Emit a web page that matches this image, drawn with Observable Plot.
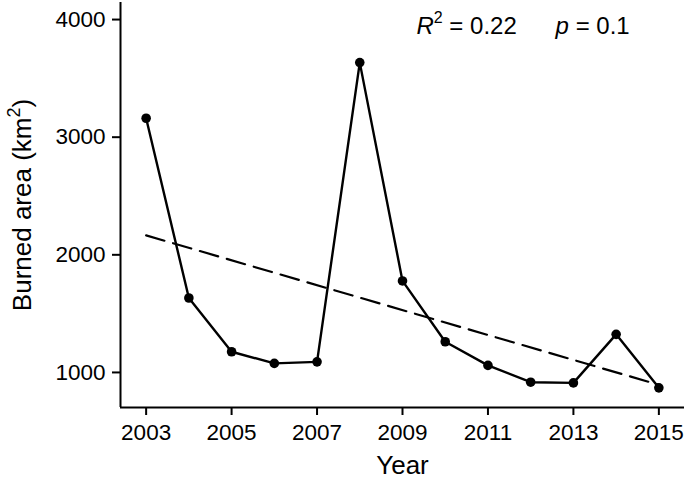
<!DOCTYPE html>
<html><head><meta charset="utf-8">
<script src="https://cdn.jsdelivr.net/npm/d3@7"></script>
<script src="https://cdn.jsdelivr.net/npm/@observablehq/plot@0.6"></script>
<style>body{margin:0;background:#fff}</style>
</head><body><div id="chart"></div>
<script>
const years = [2003,2004,2005,2006,2007,2008,2009,2010,2011,2012,2013,2014,2015];
const burnedArea = [3161,1633,1176,1077,1090,3634,1778,1261,1060,917,911,1324,869];
const xTicks = [2003,2005,2007,2009,2011,2013,2015];
const yTicks = [1000,2000,3000,4000];
const statNames = ["R", "p"];
const statValues = ["0.22", "0.1"];
const statX = [2010.5, 2013.45];
const statY = [3945, 3945];
const yTitle = "Burned area (km²)";
const xTitle = "Year";

const data = years.map((year, i) => ({year, area: burnedArea[i]}));
const stats = statNames.map((name, i) => ({name, value: statValues[i], x: statX[i], y: statY[i]}));
const FONT = "'Liberation Sans', Arial, sans-serif";

const chart = Plot.plot({
  width: 685, height: 479,
  marginLeft: 120, marginRight: 1, marginTop: 2, marginBottom: 72,
  style: {fontFamily: FONT, fontSize: "22.5px", color: "#000", background: "#fff", overflow: "visible"},
  x: {domain: [2002.4, 2015.6]},
  y: {domain: [702, 4145]},
  marks: [
    Plot.axisY({ticks: yTicks, tickFormat: d => String(d), tickSize: 8, tickPadding: 7, strokeWidth: 2, fontSize: 22.5,
      label: null}),
    Plot.axisY({ticks: [], label: yTitle, labelAnchor: "center", labelArrow: false, labelOffset: 108, fontSize: 26}),
    Plot.axisX({ticks: xTicks, tickFormat: d => String(d), tickSize: 8, tickPadding: 9, strokeWidth: 2, fontSize: 22.5,
      label: null}),
    Plot.axisX({ticks: [], label: xTitle, labelAnchor: "center", labelArrow: false, labelOffset: 66, fontSize: 26}),
    Plot.ruleX([2002.4], {stroke: "#000", strokeWidth: 2}),
    Plot.ruleY([702], {stroke: "#000", strokeWidth: 2}),
    Plot.linearRegressionY(data, {x: "year", y: "area", ci: 0, stroke: "#000", strokeWidth: 2.2, strokeDasharray: "19,9"}),
    Plot.line(data, {x: "year", y: "area", stroke: "#000", strokeWidth: 2.4}),
    Plot.dot(data, {x: "year", y: "area", r: 4.8, fill: "#000", stroke: "none"}),
    Plot.text(stats, {x: "x", y: "y", text: d => `${d.name}|${d.value}`, fontSize: 24, textAnchor: "middle", fill: "#000"})
  ]
});
document.getElementById("chart").appendChild(chart);

// rich formatting (italic symbols, real superscripts)
d3.select(chart).selectAll("text").each(function() {
  const t = this.textContent;
  const el = d3.select(this);
  if (t === yTitle) {
    el.text(null);
    el.append("tspan").text("Burned area (km");
    el.append("tspan").attr("font-size", "18px").attr("dy", "-11").text("2");
    el.append("tspan").attr("dy", "11").text(")");
    return;
  }
  const s = stats.find(d => `${d.name}|${d.value}` === t);
  if (!s) return;
  el.text(null);
  el.append("tspan").attr("font-style", "italic").text(s.name);
  if (s.name === "R") {
    el.append("tspan").attr("font-size", "16px").attr("dy", "-11").text("2");
    el.append("tspan").attr("dy", "11").text(" = " + s.value);
  } else {
    el.append("tspan").text(" = " + s.value);
  }
});
</script></body></html>
